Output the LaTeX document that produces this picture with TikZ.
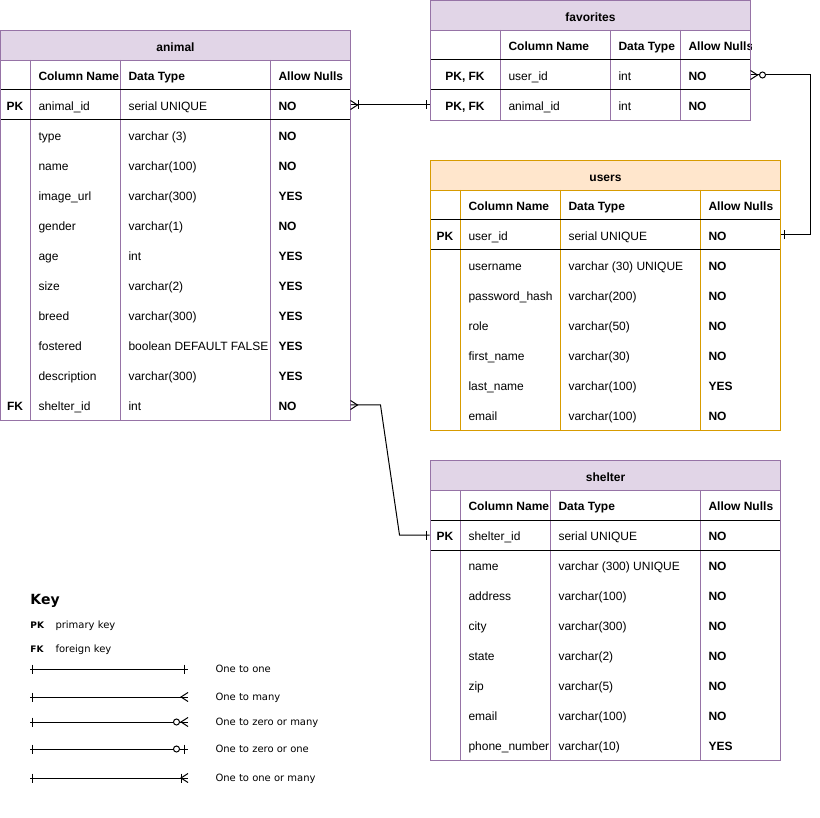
\documentclass[tikz,border=0pt]{standalone}
\usepackage{fontspec}
\setmainfont{Liberation Sans}
\newfontfamily\keyfont{DejaVu Sans}
\usetikzlibrary{calc}
\definecolor{erpurple}{HTML}{9673A6}
\definecolor{erlilac}{HTML}{E1D5E7}
\definecolor{erorange}{HTML}{D79B00}
\definecolor{erpeach}{HTML}{FFE6CC}
\tikzset{
  every node/.style={font=\fontsize{12}{14}\selectfont, inner sep=0pt, text height=11.6pt, text depth=0pt},
  tframe/.style={anchor=north west},
  ttitle/.style={anchor=north west, minimum height=30, font=\fontsize{12}{14}\selectfont\bfseries},
  colhead/.style={anchor=west, font=\fontsize{12}{14}\selectfont\bfseries},
  cell/.style={anchor=west},
  keycell/.style={font=\fontsize{12}{14}\selectfont\bfseries},
  nullcell/.style={anchor=west, font=\fontsize{12}{14}\selectfont\bfseries},
  rowbox/.style={minimum height=30},
  keytext/.style={anchor=west, font=\keyfont\fontsize{10}{12}\selectfont, text height=7.3pt},
  keymark/.style={anchor=west, font=\keyfont\bfseries\fontsize{9}{11}\selectfont, text height=6.6pt},
  crow/.pic={\draw (0,-4.5) -- (7,0) -- (0,4.5);},
  bar/.pic={\draw (0,-4.5) -- (0,4.5);},
  ring/.pic={\draw[fill=white] (0,0) circle (3);},
}
\begin{document}
\begin{tikzpicture}[x=1pt,y=-1pt,line width=1pt]
  \useasboundingbox (0,0) rectangle (820,818);

  % animal
  \node[ttitle, draw=erpurple, fill=erlilac, minimum width=350] (animal-title) at (0,30) {animal};
  \foreach \x in {30,120,270}{
    \draw[erpurple] (\x,60) -- (\x,420);
  }
  \draw (0,90) -- (350,90) (0,120) -- (350,120);
  \node[colhead] (animal-h1) at (38,75) {Column Name};
  \node[colhead] (animal-h2) at (128,75) {Data Type};
  \node[colhead] (animal-h3) at (278,75) {Allow Nulls};
  \foreach \kk/\nm/\dt/\an [count=\i] in {
    PK/animal\_id/serial UNIQUE/NO,
    /type/varchar (3)/NO,
    /name/varchar(100)/NO,
    /image\_url/varchar(300)/YES,
    /gender/varchar(1)/NO,
    /age/int/YES,
    /size/varchar(2)/YES,
    /breed/varchar(300)/YES,
    /fostered/boolean DEFAULT FALSE/YES,
    /description/varchar(300)/YES,
    FK/shelter\_id/int/NO}{
    \node[rowbox, minimum width=350] (animal-\i) at (175,{75+30*\i}) {};
    \node[keycell] (animal-\i-k) at (15,{75+30*\i}) {\kk};
    \node[cell] (animal-\i-n) at (38,{75+30*\i}) {\nm};
    \node[cell] (animal-\i-t) at (128,{75+30*\i}) {\dt};
    \node[nullcell] (animal-\i-a) at (278,{75+30*\i}) {\an};
  }
  \node[tframe, draw=erpurple, minimum width=350, minimum height=390] (animal) at (0,30) {};

  % favorites
  \node[ttitle, draw=erpurple, fill=erlilac, minimum width=320] (fav-title) at (430,0) {favorites};
  \foreach \x in {500,610,680}{
    \draw[erpurple] (\x,30) -- (\x,120);
  }
  \draw (430,60) -- (750,60) (430,90) -- (750,90);
  \node[colhead] (fav-h1) at (508,45) {Column Name};
  \node[colhead] (fav-h2) at (618,45) {Data Type};
  \begin{scope}
    \clip (680,30) rectangle (751,60);
    \node[colhead] (fav-h3) at (688,45) {Allow Nulls};
  \end{scope}
  \foreach \kk/\nm/\dt/\an [count=\i] in {
    {PK, FK}/user\_id/int/NO,
    {PK, FK}/animal\_id/int/NO}{
    \node[rowbox, minimum width=320] (fav-\i) at (590,{45+30*\i}) {};
    \node[keycell] (fav-\i-k) at (465,{45+30*\i}) {\kk};
    \node[cell] (fav-\i-n) at (508,{45+30*\i}) {\nm};
    \node[cell] (fav-\i-t) at (618,{45+30*\i}) {\dt};
    \node[nullcell] (fav-\i-a) at (688,{45+30*\i}) {\an};
  }
  \node[tframe, draw=erpurple, minimum width=320, minimum height=120] (fav) at (430,0) {};

  % users
  \node[ttitle, draw=erorange, fill=erpeach, minimum width=350] (users-title) at (430,160) {users};
  \foreach \x in {460,560,700}{
    \draw[erorange] (\x,190) -- (\x,430);
  }
  \draw (430,220) -- (780,220) (430,250) -- (780,250);
  \node[colhead] (users-h1) at (468,205) {Column Name};
  \node[colhead] (users-h2) at (568,205) {Data Type};
  \node[colhead] (users-h3) at (708,205) {Allow Nulls};
  \foreach \kk/\nm/\dt/\an [count=\i] in {
    PK/user\_id/serial UNIQUE/NO,
    /username/varchar (30) UNIQUE/NO,
    /password\_hash/varchar(200)/NO,
    /role/varchar(50)/NO,
    /first\_name/varchar(30)/NO,
    /last\_name/varchar(100)/YES,
    /email/varchar(100)/NO}{
    \node[rowbox, minimum width=350] (users-\i) at (605,{205+30*\i}) {};
    \node[keycell] (users-\i-k) at (445,{205+30*\i}) {\kk};
    \node[cell] (users-\i-n) at (468,{205+30*\i}) {\nm};
    \node[cell] (users-\i-t) at (568,{205+30*\i}) {\dt};
    \node[nullcell] (users-\i-a) at (708,{205+30*\i}) {\an};
  }
  \node[tframe, draw=erorange, minimum width=350, minimum height=270] (users) at (430,160) {};

  % shelter
  \node[ttitle, draw=erpurple, fill=erlilac, minimum width=350] (shelter-title) at (430,460) {shelter};
  \foreach \x in {460,550,700}{
    \draw[erpurple] (\x,490) -- (\x,760);
  }
  \draw (430,520) -- (780,520) (430,550) -- (780,550);
  \node[colhead] (shelter-h1) at (468,505) {Column Name};
  \node[colhead] (shelter-h2) at (558,505) {Data Type};
  \node[colhead] (shelter-h3) at (708,505) {Allow Nulls};
  \foreach \kk/\nm/\dt/\an [count=\i] in {
    PK/shelter\_id/serial UNIQUE/NO,
    /name/varchar (300) UNIQUE/NO,
    /address/varchar(100)/NO,
    /city/varchar(300)/NO,
    /state/varchar(2)/NO,
    /zip/varchar(5)/NO,
    /email/varchar(100)/NO,
    /phone\_number/varchar(10)/YES}{
    \node[rowbox, minimum width=350] (shelter-\i) at (605,{505+30*\i}) {};
    \node[keycell] (shelter-\i-k) at (445,{505+30*\i}) {\kk};
    \node[cell] (shelter-\i-n) at (468,{505+30*\i}) {\nm};
    \node[cell] (shelter-\i-t) at (558,{505+30*\i}) {\dt};
    \node[nullcell] (shelter-\i-a) at (708,{505+30*\i}) {\an};
  }
  \node[tframe, draw=erpurple, minimum width=350, minimum height=300] (shelter) at (430,460) {};

  % relations
  \draw (animal-1.east) -- (fav-2.west);
  \pic at (animal-1.east) {crow};
  \pic[xshift=8] at (animal-1.east) {bar};
  \pic[xshift=-3] at (fav-2.west) {bar};

  \draw (fav-1.east) -- ++(60,0) |- (users-1.east);
  \pic at (fav-1.east) {crow};
  \pic[xshift=12] at (fav-1.east) {ring};
  \pic[xshift=4] at (users-1.east) {bar};

  \draw (animal-11.east) -- ++(30,0) -- ($(shelter-1.west)+(-30,0)$) -- (shelter-1.west);
  \pic at (animal-11.east) {crow};
  \pic[xshift=-3] at (shelter-1.west) {bar};

  % key
  \node[anchor=west, font=\keyfont\bfseries\fontsize{14}{16}\selectfont, text height=10.2pt] (key) at (30,599) {Key};
  \node[keymark] (key-pk) at (30,625) {PK};
  \node[keytext] (key-pk-t) at (55,625) {primary key};
  \node[keymark] (key-fk) at (30,649) {FK};
  \node[keytext] (key-fk-t) at (55,649) {foreign key};
  \foreach \y/\nm/\txt in {669/one/One to one, 697/many/One to many, 722/zmany/One to zero or many,
    749/zone/One to zero or one, 778/omany/One to one or many}{
    \coordinate (key-\nm-a) at (30,\y);
    \coordinate (key-\nm-b) at (188,\y);
    \draw (key-\nm-a) -- (key-\nm-b);
    \pic[xshift=2] at (key-\nm-a) {bar};
    \node[keytext] (key-\nm) at (215,\y) {\txt};
  }
  \pic[xshift=-4] at (key-one-b) {bar};
  \pic[xscale=-1] at (key-many-b) {crow};
  \pic[xscale=-1] at (key-zmany-b) {crow};
  \pic[xshift=-11.5] at (key-zmany-b) {ring};
  \pic[xshift=-11.5] at (key-zone-b) {ring};
  \pic[xshift=-4] at (key-zone-b) {bar};
  \pic[xscale=-1] at (key-omany-b) {crow};
  \pic[xshift=-7] at (key-omany-b) {bar};
\end{tikzpicture}
\end{document}
